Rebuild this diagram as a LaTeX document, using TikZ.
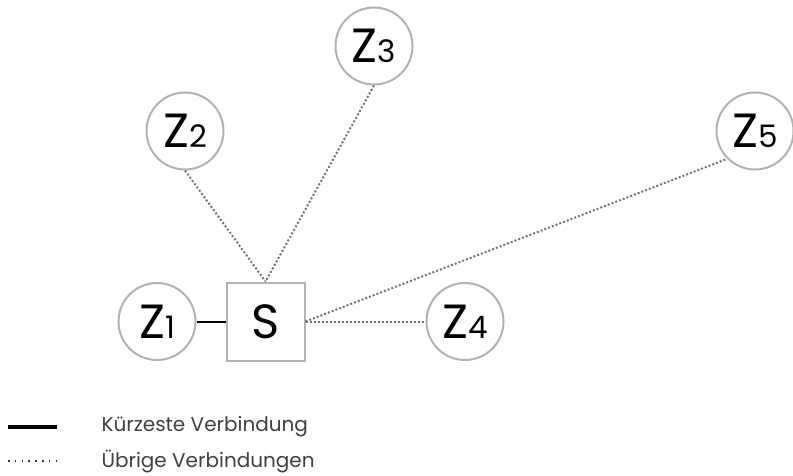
\documentclass[tikz,border=0pt]{standalone}
\usepackage{fontspec}
\setmainfont{Poppins}
\begin{document}
\begin{tikzpicture}[x=1pt,y=-1pt,
  target/.style={circle,draw=black!30,line width=2pt,minimum size=77pt,inner sep=0pt,
    font=\fontsize{48}{48}\selectfont},
  source/.style={rectangle,draw=black!30,line width=2pt,minimum size=78pt,inner sep=0pt,
    font=\fontsize{48}{48}\selectfont},
  shortest/.style={black,line width=2pt},
  other/.style={black!55,line width=2pt,dotted},
  legenddots/.style={black!80,line width=1.6pt,dash pattern=on 1.6pt off 5.2pt},
  legendtext/.style={anchor=west,font=\fontsize{20}{20}\selectfont,text=black!75}]
\useasboundingbox (0,0) rectangle (793,476);
\newcommand{\zlabel}[1]{Z{\fontsize{31}{31}\selectfont #1}}
% nodes
\node[source] (S) at (265.5,321.5) {S};
\node[target] (Z1) at (157,321.5) {\zlabel{1}};
\node[target] (Z2) at (185,131) {\zlabel{2}};
\node[target] (Z3) at (374,46) {\zlabel{3}};
\node[target] (Z4) at (465,321.5) {\zlabel{4}};
\node[target] (Z5) at (755,131) {\zlabel{5}};
% connections
\draw[shortest] (Z1) -- (S);
\draw[other] (Z2.south) -- (S.north);
\draw[other] (Z3.south) -- (S.north);
\draw[other] (S.east) -- (Z4);
\draw[other] (S.east) -- (Z5.south west);
% legend
\coordinate (l1a) at (8,427);
\coordinate (l1b) at (57,427);
\coordinate (l2a) at (8,461);
\coordinate (l2b) at (61,461);
\draw[black,line width=4pt] (l1a) -- (l1b);
\draw[legenddots] (l2a) -- (l2b);
\node[legendtext] (t1) at (98,427) {Kürzeste Verbindung};
\node[legendtext] (t2) at (98,461) {Übrige Verbindungen};
\end{tikzpicture}
\end{document}
